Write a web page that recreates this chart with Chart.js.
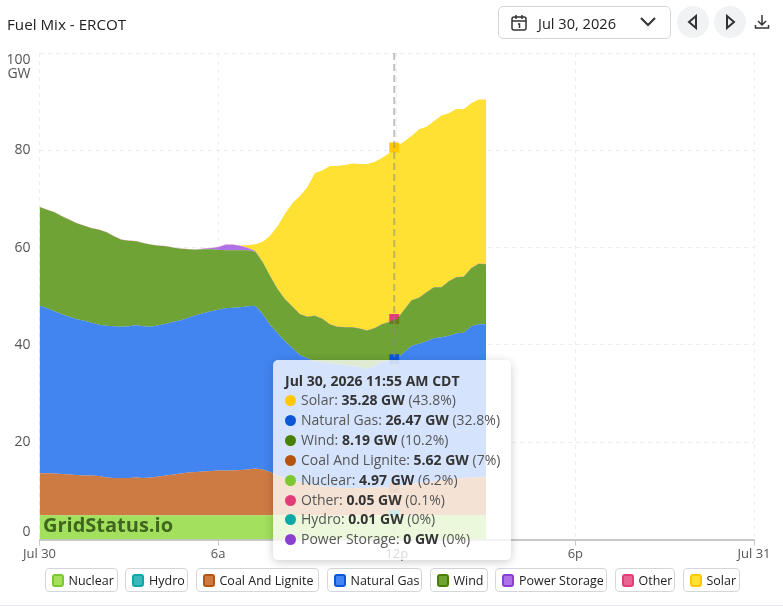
<!DOCTYPE html>
<html>
<head>
<meta charset="utf-8">
<title>Fuel Mix - ERCOT</title>
<script src="https://cdn.jsdelivr.net/npm/chart.js@4"></script>
<style>
body { margin: 0; background: #fff; font-family: "Open Sans", sans-serif; color: #222; }
#wrap { position: relative; width: 783px; height: 606px; overflow: hidden; border-bottom: 0; }
#chartArea { position: absolute; left: 0; top: 0; }
#title { position: absolute; left: 7px; top: 14px; font-size: 15.2px; line-height: 20px; color: #222; }
#picker { position: absolute; left: 498px; top: 6px; width: 171px; height: 31px; border: 1px solid #d3d7dc; border-radius: 5px; }
#picker span { position: absolute; left: 39px; top: 5px; font-size: 14.6px; line-height: 22px; color: #222; }
#picker svg.cal { position: absolute; left: 11px; top: 7px; }
#picker svg.chev { position: absolute; left: 140px; top: 9px; }
.round { position: absolute; top: 6px; width: 32px; height: 32px; border-radius: 16px; background: #f1f2f4; }
.round svg { position: absolute; left: 8px; top: 8px; }
#download { position: absolute; left: 754px; top: 14px; }
#mark { position: absolute; left: 43px; top: 511px; font-size: 20px; line-height: 28px; font-weight: 700; color: rgba(30, 60, 10, .75); }
#legend { position: absolute; left: 44.5px; top: 568px; display: flex; gap: 7.5px; }
.chip { box-sizing: border-box; display: flex; align-items: center; height: 24px; padding: 0 0 0 6px; border: 1px solid #d3d7dc; border-radius: 4px; font-size: 12.5px; color: #222; white-space: nowrap; }
.chip i { display: block; width: 8px; height: 9px; border: 2px solid; border-radius: 3px; margin-right: 5px; }
#tip { position: absolute; left: 273px; top: 360px; width: 238px; height: 200px; border-radius: 5px; background: rgba(255, 255, 255, .78); box-shadow: 0 2px 10px rgba(0, 0, 0, .2); font-size: 14px; color: #555; }
#tip b { color: #333; }
#tip .head { position: absolute; left: 12px; top: 12px; line-height: 18px; font-weight: 700; color: #333; white-space: nowrap; }
#tip .row { position: absolute; left: 12px; line-height: 18px; white-space: nowrap; }
#tip .row i { display: inline-block; width: 11px; height: 11px; border-radius: 6px; margin-right: 5px; vertical-align: -1px; }
#foot { position: absolute; left: 0; top: 605px; width: 783px; height: 1px; background: #e5e7eb; }
</style>
</head>
<body>
<div id="wrap">
  <canvas id="chartArea" width="783" height="606"></canvas>
  <div id="title">Fuel Mix - ERCOT</div>
  <div id="picker">
    <svg class="cal" width="18" height="18" viewBox="0 0 18 18" fill="none" stroke="#333" stroke-width="1.5"><rect x="2" y="3" width="14" height="13" rx="2"/><path d="M2 7h14M6 1v4M12 1v4M8 10h1.5v4"/></svg>
    <span>Jul 30, 2026</span>
    <svg class="chev" width="18" height="12" viewBox="0 0 18 12" fill="none" stroke="#333" stroke-width="2"><path d="M2 2l7 7 7-7"/></svg>
  </div>
  <div class="round" style="left:677px"><svg width="16" height="16" viewBox="0 0 16 16" fill="none" stroke="#333" stroke-width="2"><path d="M11 2v12L4 8z"/></svg></div>
  <div class="round" style="left:714px"><svg width="16" height="16" viewBox="0 0 16 16" fill="none" stroke="#333" stroke-width="2"><path d="M5 2v12l7-6z"/></svg></div>
  <svg id="download" width="16" height="16" viewBox="0 0 16 16" fill="none" stroke="#333" stroke-width="1.5"><path d="M8 1v9M4 7l4 4 4-4M1.5 11v3h13v-3"/></svg>
  <div id="mark">GridStatus.io</div>
  <div id="legend"></div>
  <div id="tip"></div>
  <div id="foot"></div>
</div>
<script>
// minutes after midnight, every 15 min plus the hovered 11:55 sample
const times = [0,15,30,45,60,75,90,105,120,135,150,165,180,195,210,225,240,255,270,285,300,315,330,345,360,375,390,405,420,435,450,465,480,495,510,525,540,555,570,585,600,615,630,645,660,675,690,705,715,720,735,750,765,780,795,810,825,840,855,870,885,900];

const nuclear = [4.97,4.97,4.97,4.97,4.97,4.97,4.97,4.97,4.97,4.97,4.97,4.97,4.97,4.97,4.97,4.97,4.97,4.97,4.97,4.97,4.97,4.97,4.97,4.97,4.97,4.97,4.97,4.97,4.97,4.97,4.97,4.97,4.97,4.97,4.97,4.97,4.97,4.97,4.97,4.97,4.97,4.97,4.97,4.97,4.97,4.97,4.97,4.97,4.97,4.97,4.97,4.97,4.97,4.97,4.97,4.97,4.97,4.97,4.97,4.97,4.97,4.97];
const hydro = [0.01,0.01,0.01,0.01,0.01,0.01,0.01,0.01,0.01,0.01,0.01,0.01,0.01,0.01,0.01,0.01,0.01,0.01,0.01,0.01,0.01,0.01,0.01,0.01,0.01,0.01,0.01,0.01,0.01,0.01,0.01,0.01,0.01,0.01,0.01,0.01,0.01,0.01,0.01,0.01,0.01,0.01,0.01,0.01,0.01,0.01,0.01,0.01,0.01,0.01,0.01,0.01,0.01,0.01,0.01,0.01,0.01,0.01,0.01,0.01,0.01,0.01];
const coal = [8.62,8.62,8.58,8.48,8.38,8.28,8.17,8.17,8.07,7.76,7.66,7.66,7.66,7.76,7.66,7.76,7.97,8.17,8.38,8.58,8.79,8.89,8.99,9.10,9.20,9.20,9.20,9.30,9.40,9.61,9.40,8.89,8.17,7.66,7.25,6.84,6.43,6.12,5.91,5.81,5.71,5.61,5.61,5.61,5.61,5.71,5.81,5.65,5.62,5.75,6.22,6.43,6.63,6.84,7.04,7.25,7.45,7.56,7.66,7.76,7.86,7.93];
const gas = [34.50,33.94,33.37,32.85,32.44,32.03,31.83,31.42,31.11,31.21,31.21,31.07,31.21,31.31,31.21,31.01,31.11,31.21,31.42,31.52,31.83,32.24,32.55,32.85,33.06,33.37,33.47,33.47,33.57,33.47,31.93,30.18,29.26,28.13,27.10,26.08,25.87,25.56,25.56,25.46,25.36,25.26,25.05,24.85,24.44,24.95,25.67,26.08,26.47,26.39,27.31,28.44,28.64,28.95,29.36,29.36,29.47,29.88,29.88,31.11,31.42,31.36];
const wind = [20.25,20.23,20.33,20.12,19.92,19.71,19.51,19.40,19.51,19.20,18.48,17.91,17.56,17.25,17.04,16.84,16.32,15.91,15.20,14.68,14.07,13.45,13.14,12.73,12.32,11.91,11.81,11.70,11.50,11.09,10.68,10.06,9.03,8.62,8.52,8.42,8.52,9.34,8.93,8.01,7.70,7.80,8.01,7.91,7.91,7.80,7.80,8.01,8.19,8.11,8.73,9.34,9.45,10.06,10.47,10.27,11.19,11.50,11.50,11.91,12.42,12.32];
const storage = [0,0,0,0,0,0,0,0,0,0,0,0,0,0,0,0,0,0,0,0,0,0,0.08,0.2,0.5,1.15,1.15,0.9,0.47,0.1,0,0,0,0,0,0,0,0,0,0,0,0,0,0,0,0,0,0,0,0,0,0,0,0,0,0,0,0,0,0,0,0];
const other = [0.05,0.05,0.05,0.05,0.05,0.05,0.05,0.05,0.05,0.05,0.05,0.05,0.05,0.05,0.05,0.05,0.05,0.05,0.05,0.05,0.05,0.05,0.05,0.05,0.05,0.05,0.05,0.05,0.05,0.05,0.05,0.05,0.05,0.05,0.05,0.05,0.05,0.05,0.05,0.05,0.05,0.05,0.05,0.05,0.05,0.05,0.05,0.05,0.05,0.05,0.05,0.05,0.05,0.05,0.05,0.05,0.05,0.05,0.05,0.05,0.05,0.05];
const solar = [0,0,0,0,0,0,0,0,0,0,0,0,0,0,0,0,0,0,0,0,0,0,0,0,0,0,0,0.05,0.55,1.38,4.17,8.32,12.94,17.56,21.25,24.23,26.59,29.26,30.43,32.44,32.96,33.26,33.61,33.78,34.19,34.09,34.09,34.70,35.28,35.60,34.50,33.68,34.60,33.98,34.09,35.22,34.50,34.50,34.39,33.88,33.72,33.82];

const seriesNames = ['Nuclear', 'Hydro', 'Coal And Lignite', 'Natural Gas', 'Wind', 'Power Storage', 'Other', 'Solar'];
const seriesValues = [nuclear, hydro, coal, gas, wind, storage, other, solar];
const seriesColors = ['#7cc92f', '#0ca8a8', '#b5540f', '#0b57d8', '#4a8000', '#8a3fd1', '#e23d78', '#ffc800'];
const fillColors = ['rgba(139,216,54,.8)', 'rgba(12,168,168,.8)', 'rgba(194,90,20,.8)', 'rgba(19,102,236,.8)', 'rgba(75,140,2,.8)', 'rgba(155,79,224,.8)', 'rgba(226,61,120,.8)', 'rgba(255,217,0,.8)'];
const chipWidths = [73, 63, 123.5, 95.5, 58, 112, 60.5, 57];

const xTicks = { 0: 'Jul 30', 360: '6a', 720: '12p', 1080: '6p', 1440: 'Jul 31' };
const hoverTime = 715;
const hoverLabel = 'Jul 30, 2026 11:55 AM CDT';
const hoverIndex = times.indexOf(hoverTime);

// blank lines push the first and last y labels off their grid lines
function yLabel(value) {
    if (value === 100) return ['', '', '100', 'GW'];
    if (value === 0) return ['0', ''];
    return String(value);
}

const crosshair = {
    id: 'crosshair',
    afterDatasetsDraw(chart) {
        const x = chart.scales.x.getPixelForValue(hoverTime);
        const ctx = chart.ctx;
        ctx.save();
        ctx.strokeStyle = 'rgba(140,140,140,.55)';
        ctx.lineWidth = 2;
        ctx.setLineDash([7, 4]);
        ctx.beginPath();
        ctx.moveTo(x, chart.chartArea.top);
        ctx.lineTo(x, chart.chartArea.bottom);
        ctx.stroke();
        ctx.restore();
    }
};

const datasets = seriesNames.map((name, i) => ({
    label: name,
    data: times.map((t, j) => ({ x: t, y: seriesValues[i][j] })),
    backgroundColor: fillColors[i],
    borderWidth: 0,
    fill: i === 0 ? 'origin' : '-1',
    pointRadius: 0,
    pointStyle: 'rect',
    pointHoverRadius: 7,
    pointHoverBorderWidth: 0,
    pointHoverBackgroundColor: seriesColors[i]
}));

const chart = new Chart(document.getElementById('chartArea'), {
    type: 'line',
    data: { datasets: datasets },
    plugins: [crosshair],
    options: {
        responsive: false,
        animation: false,
        events: [],
        layout: { padding: { top: 53, right: 29, left: 0, bottom: 0 } },
        plugins: { legend: { display: false }, tooltip: { enabled: false } },
        scales: {
            x: {
                type: 'linear',
                min: 0,
                max: 1440,
                afterFit(scale) { scale.height = 66.5; },
                afterBuildTicks(scale) { scale.ticks = Object.keys(xTicks).map(v => ({ value: +v })); },
                border: { color: '#c8c8c8', width: 2, dash: [4, 4] },
                grid: { color: '#eeeeee', tickColor: '#c8c8c8', tickLength: 6, tickBorderDash: [] },
                ticks: {
                    maxRotation: 0,
                    autoSkip: false,
                    padding: 1,
                    color: '#555',
                    font: { family: '"Open Sans", sans-serif', size: 13 },
                    callback: value => xTicks[value]
                }
            },
            y: {
                stacked: true,
                min: 0,
                max: 100,
                afterFit(scale) { scale.width = 39.5; },
                border: { display: false, dash: [4, 4] },
                grid: { color: '#eeeeee', drawTicks: false },
                ticks: {
                    stepSize: 20,
                    padding: 9,
                    color: '#555',
                    font: { family: '"Open Sans", sans-serif', size: 14, lineHeight: 1 },
                    callback: yLabel
                }
            }
        }
    }
});

// wind, storage and nuclear sit hidden behind their neighbours' markers in the original
const hiddenMarkers = ['Wind', 'Power Storage', 'Nuclear'];
const hovered = [];
seriesNames.forEach((name, i) => {
    if (!hiddenMarkers.includes(name)) hovered.push({ datasetIndex: i, index: hoverIndex });
});
chart.setActiveElements(hovered);
chart.update();

function buildLegend() {
    const box = document.getElementById('legend');
    seriesNames.forEach((name, i) => {
        const chip = document.createElement('div');
        chip.className = 'chip';
        chip.style.width = chipWidths[i] + 'px';
        chip.innerHTML = '<i style="border-color:' + seriesColors[i] + ';background:' + fillColors[i] + '"></i>' + name;
        box.appendChild(chip);
    });
}

function buildTooltip() {
    const tip = document.getElementById('tip');
    const rows = seriesNames.map((name, i) => ({ name: name, color: seriesColors[i], value: seriesValues[i][hoverIndex] }));
    rows.sort((a, b) => b.value - a.value);
    const total = rows.reduce((sum, r) => sum + r.value, 0);
    let html = '<div class="head">' + hoverLabel + '</div>';
    rows.forEach((r, i) => {
        const pct = +(r.value / total * 100).toFixed(1);
        html += '<div class="row" style="top:' + (31 + i * 19.9) + 'px"><i style="background:' + r.color + '"></i>' +
            r.name + ': <b>' + r.value + ' GW</b> (' + pct + '%)</div>';
    });
    tip.innerHTML = html;
}

buildLegend();
buildTooltip();
</script>
</body>
</html>
